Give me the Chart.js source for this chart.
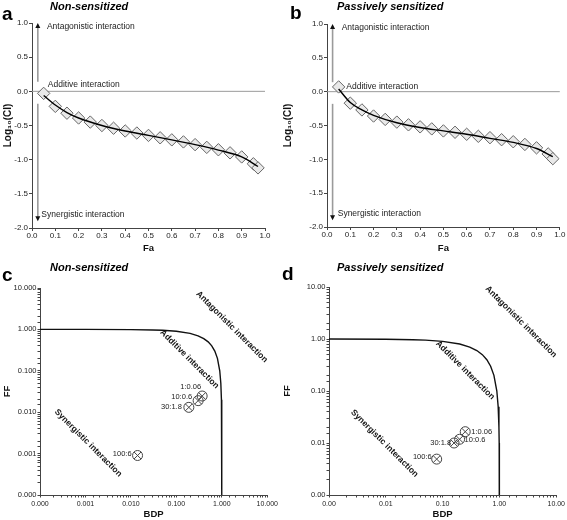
<!DOCTYPE html>
<html>
<head>
<meta charset="utf-8">
<script src="https://cdn.jsdelivr.net/npm/chart.js@4.4.1/dist/chart.umd.min.js"></script>
<style>
  body { margin: 0; background: #fff; font-family: "Liberation Sans", Arial, sans-serif; }
  #wrap { position: relative; width: 567px; height: 520px; overflow: hidden; }
  canvas { position: absolute; }
  .letter { position: absolute; font-weight: bold; font-size: 19px; line-height: 1; color: #000; }
  .ttl { position: absolute; font-weight: bold; font-style: italic; font-size: 11px; line-height: 1; color: #000; }
</style>
</head>
<body>
<div id="wrap">
  <canvas id="chartA" width="280" height="260" style="left:0;top:0"></canvas>
  <canvas id="chartB" width="287" height="260" style="left:280px;top:0"></canvas>
  <canvas id="chartC" width="280" height="260" style="left:0;top:260px"></canvas>
  <canvas id="chartD" width="287" height="260" style="left:280px;top:260px"></canvas>
  <div class="letter" style="left:2px;top:4px">a</div>
  <div class="ttl" style="left:50px;top:1px">Non-sensitized</div>
  <div class="letter" style="left:290px;top:3px">b</div>
  <div class="ttl" style="left:337px;top:1px">Passively sensitized</div>
  <div class="letter" style="left:2px;top:265px">c</div>
  <div class="ttl" style="left:50px;top:262px">Non-sensitized</div>
  <div class="letter" style="left:282px;top:264px">d</div>
  <div class="ttl" style="left:337px;top:262px">Passively sensitized</div>
</div>
<script>
// --- Fa / log10(CI) plots (a, b) ---
const faValues = [0.05, 0.10, 0.15, 0.20, 0.25, 0.30, 0.35, 0.40, 0.45, 0.50,
                  0.55, 0.60, 0.65, 0.70, 0.75, 0.80, 0.85, 0.90, 0.95, 0.97];
const ciNonSens = [-0.03, -0.22, -0.32, -0.39, -0.45, -0.50, -0.54, -0.58, -0.61, -0.645,
                   -0.68, -0.71, -0.74, -0.78, -0.82, -0.855, -0.90, -0.96, -1.06, -1.12];
const ciSens = [0.07, -0.17, -0.27, -0.36, -0.41, -0.45, -0.49, -0.52, -0.55, -0.58,
                -0.60, -0.63, -0.66, -0.68, -0.71, -0.74, -0.78, -0.83, -0.92, -0.99];
const fitFa = [0.05, 0.10, 0.15, 0.20, 0.30, 0.40, 0.50, 0.60, 0.70, 0.80, 0.90, 0.97];
const fitNonSens = [-0.06, -0.20, -0.31, -0.39, -0.50, -0.58, -0.645, -0.71, -0.78, -0.86, -0.96, -1.10];
const fitSens = [0.04, -0.16, -0.27, -0.35, -0.46, -0.53, -0.58, -0.63, -0.69, -0.75, -0.84, -0.96];
const ciNotes = ['Antagonistic interaction', 'Additive interaction', 'Synergistic interaction'];

// --- isobolograms (c, d) ---
const ratioLabels = ['1:0.06', '10:0.6', '30:1.8', '100:6'];
const bdpNonSens = [0.369, 0.301, 0.188, 0.014];
const ffNonSens = [0.0246, 0.019, 0.0131, 0.0009];
const bdpSens = [0.25, 0.199, 0.159, 0.0786];
const ffSens = [0.0165, 0.0118, 0.0100, 0.0049];
const isoBdp = [0.0001, 0.001, 0.01, 0.03, 0.05, 0.1, 0.2, 0.3, 0.4, 0.5, 0.6, 0.7, 0.8, 0.9, 0.95, 0.98, 0.99, 0.995, 0.999, 0.9999];
const isoFf = [1.0, 1.0, 0.99, 0.97, 0.95, 0.9, 0.8, 0.7, 0.6, 0.5, 0.4, 0.3, 0.2, 0.1, 0.05, 0.02, 0.01, 0.005, 0.001, 0.0001];
const zoneLabels = ['Antagonistic interaction', 'Additive interaction', 'Synergistic interaction'];

const FONT = '"Liberation Sans", Arial, sans-serif';
const AXIS = '#444';
const pts = (xs, ys) => xs.map((x, i) => ({ x: x, y: ys[i] }));

function arrowHead(ctx, x, y, dir) {
  ctx.beginPath();
  ctx.moveTo(x, y);
  ctx.lineTo(x - 2.5, y - dir * 5);
  ctx.lineTo(x + 2.5, y - dir * 5);
  ctx.closePath();
  ctx.fill();
}

// zero line, arrows and interaction notes on the CI plots
function ciDecor(o) {
  return {
    id: 'ciDecor',
    beforeDatasetsDraw(chart) {
      const { ctx, chartArea: a, scales: { x, y } } = chart;
      ctx.save();
      ctx.strokeStyle = '#9a9a9a';
      ctx.lineWidth = 1;
      const y0 = y.getPixelForValue(0);
      ctx.beginPath(); ctx.moveTo(a.left, y0); ctx.lineTo(a.right, y0); ctx.stroke();

      const ax = x.getPixelForValue(o.arrowX);
      ctx.lineWidth = 1.6;
      ctx.beginPath(); ctx.moveTo(ax, y.getPixelForValue(0.14)); ctx.lineTo(ax, y.getPixelForValue(0.97)); ctx.stroke();
      ctx.beginPath(); ctx.moveTo(ax, y.getPixelForValue(-0.18)); ctx.lineTo(ax, y.getPixelForValue(-1.86)); ctx.stroke();
      ctx.fillStyle = '#111';
      arrowHead(ctx, ax, y.getPixelForValue(1.0), -1);
      arrowHead(ctx, ax, y.getPixelForValue(-1.9), 1);

      ctx.font = '8.5px ' + FONT;
      ctx.fillStyle = '#222';
      ctx.textAlign = 'left';
      ctx.textBaseline = 'middle';
      ctx.fillText(ciNotes[0], x.getPixelForValue(o.antX), y.getPixelForValue(0.94));
      ctx.fillText(ciNotes[1], x.getPixelForValue(o.addX), y.getPixelForValue(o.addY));
      ctx.fillText(ciNotes[2], x.getPixelForValue(o.synX), y.getPixelForValue(-1.8));
      ctx.restore();
    }
  };
}

// rotated zone notes and ratio labels on the isobolograms
function isoDecor(o) {
  return {
    id: 'isoDecor',
    afterDatasetsDraw(chart) {
      const { ctx, scales: { x, y } } = chart;
      ctx.save();
      ctx.fillStyle = '#111';
      ctx.font = 'bold 8.5px ' + FONT;
      ctx.textAlign = 'center';
      ctx.textBaseline = 'middle';
      o.zones.forEach((z, i) => {
        ctx.save();
        ctx.translate(x.getPixelForValue(z[0]), y.getPixelForValue(z[1]));
        ctx.rotate(Math.PI / 4);
        ctx.fillText(zoneLabels[i], 0, 0);
        ctx.restore();
      });
      ctx.font = '7.5px ' + FONT;
      ctx.fillStyle = '#222';
      o.xs.forEach((v, i) => {
        const off = o.offsets[i];
        ctx.textAlign = off[2];
        ctx.fillText(ratioLabels[i], x.getPixelForValue(v) + off[0], y.getPixelForValue(o.ys[i]) + off[1]);
      });
      ctx.restore();
    }
  };
}

function ciChart(id, ci, fit, lay, decor) {
  return new Chart(document.getElementById(id), {
    type: 'scatter',
    data: {
      datasets: [
        { data: pts(fitFa, fit), showLine: true, borderColor: '#000', borderWidth: 1.4,
          pointRadius: 0, tension: 0.4, cubicInterpolationMode: 'monotone' },
        { data: pts(faValues, ci), pointStyle: 'rectRot', pointRadius: 6.2,
          backgroundColor: '#e9e9e9', borderColor: '#666', borderWidth: 1 }
      ]
    },
    options: {
      responsive: false, animation: false,
      layout: { padding: { top: lay.top, right: lay.right, left: 0, bottom: 0 } },
      plugins: { legend: { display: false }, tooltip: { enabled: false } },
      scales: {
        x: {
          type: 'linear', min: 0, max: 1,
          afterFit: s => { s.height = lay.xh; },
          border: { color: AXIS, width: 1 },
          grid: { drawOnChartArea: false, tickLength: 3, color: AXIS },
          ticks: { stepSize: 0.1, padding: 0, maxRotation: 0, autoSkip: false, color: '#222',
                   font: { size: 8, family: FONT }, callback: v => v.toFixed(1) },
          title: { display: true, text: 'Fa', color: '#111', padding: { top: 0, bottom: 6 },
                   font: { size: 9.5, weight: 'bold', family: FONT } }
        },
        y: {
          type: 'linear', min: -2, max: 1,
          afterFit: s => { s.width = lay.yw; },
          border: { color: AXIS, width: 1 },
          grid: { drawOnChartArea: false, tickLength: 3, color: AXIS },
          ticks: { stepSize: 0.5, padding: 1, color: '#222',
                   font: { size: 8, family: FONT }, callback: v => v.toFixed(1) },
          title: { display: true, text: 'Log\u2081\u2080(CI)', color: '#111', padding: { top: 2, bottom: 0 },
                   font: { size: 10, weight: 'bold', family: FONT } }
        }
      }
    },
    plugins: [decor]
  });
}

function logTick(dec) {
  return v => {
    const l = Math.log10(v);
    return Math.abs(l - Math.round(l)) < 1e-6 ? v.toFixed(dec) : '';
  };
}

function isoChart(id, bdp, ff, lay, decor) {
  return new Chart(document.getElementById(id), {
    type: 'scatter',
    data: {
      datasets: [
        { data: pts(bdp, ff), pointStyle: 'crossRot', pointRadius: 5, borderColor: '#444', borderWidth: 1,
          backgroundColor: 'transparent' },
        { data: pts(bdp, ff), pointStyle: 'circle', pointRadius: 5, borderColor: '#444', borderWidth: 1,
          backgroundColor: 'rgba(255,255,255,0)' },
        { data: pts(isoBdp.filter(v => v >= lay.min), isoFf.filter((v, i) => isoBdp[i] >= lay.min)),
          showLine: true, borderColor: '#111', borderWidth: 1.4, pointRadius: 0, tension: 0 }
      ]
    },
    options: {
      responsive: false, animation: false,
      layout: { padding: { top: lay.top, right: lay.right, left: 0, bottom: 0 } },
      plugins: { legend: { display: false }, tooltip: { enabled: false } },
      scales: {
        x: {
          type: 'logarithmic', min: lay.min, max: 10,
          afterFit: s => { s.height = lay.xh; },
          border: { color: AXIS, width: 1 },
          grid: { drawOnChartArea: false, tickLength: 2.5, color: AXIS },
          ticks: { padding: 2, maxRotation: 0, autoSkip: false, color: '#222',
                   font: { size: 7, family: FONT }, callback: logTick(lay.dec) },
          title: { display: true, text: 'BDP', color: '#111', padding: { top: 0, bottom: 0 },
                   font: { size: 9.5, weight: 'bold', family: FONT } }
        },
        y: {
          type: 'logarithmic', min: lay.min, max: 10,
          afterFit: s => { s.width = lay.yw; },
          border: { color: AXIS, width: 1 },
          grid: { drawOnChartArea: false, tickLength: 2.5, color: AXIS },
          ticks: { padding: 1, autoSkip: false, color: '#222',
                   font: { size: 7.5, family: FONT }, callback: logTick(lay.dec) },
          title: { display: true, text: 'FF', color: '#111', padding: { top: 2, bottom: 0 },
                   font: { size: 9.5, weight: 'bold', family: FONT } }
        }
      }
    },
    plugins: [decor]
  });
}

ciChart('chartA', ciNonSens, fitNonSens, { top: 23, right: 15, xh: 32, yw: 32 },
  ciDecor({ arrowX: 0.025, antX: 0.064, addX: 0.068, addY: 0.1, synX: 0.04 }));
ciChart('chartB', ciSens, fitSens, { top: 24, right: 6, xh: 33, yw: 47 },
  ciDecor({ arrowX: 0.024, antX: 0.063, addX: 0.083, addY: 0.08, synX: 0.046 }));

isoChart('chartC', bdpNonSens, ffNonSens, { top: 28, right: 12, xh: 25, yw: 40, min: 0.0001, dec: 3 },
  isoDecor({
    xs: bdpNonSens, ys: ffNonSens,
    zones: [[1.66, 1.15], [0.195, 0.19], [0.00115, 0.0018]],
    offsets: [[-1, -9, 'right'], [-6, -4, 'right'], [-7, 0, 'right'], [-6, -2, 'right']]
  }));
isoChart('chartD', bdpSens, ffSens, { top: 27, right: 10, xh: 25, yw: 49, min: 0.001, dec: 2 },
  isoDecor({
    xs: bdpSens, ys: ffSens,
    zones: [[2.4, 2.14], [0.25, 0.25], [0.0095, 0.0098]],
    offsets: [[6, 0, 'left'], [5, 1, 'left'], [-3, 0, 'right'], [-5, -2, 'right']]
  }));
</script>
</body>
</html>
